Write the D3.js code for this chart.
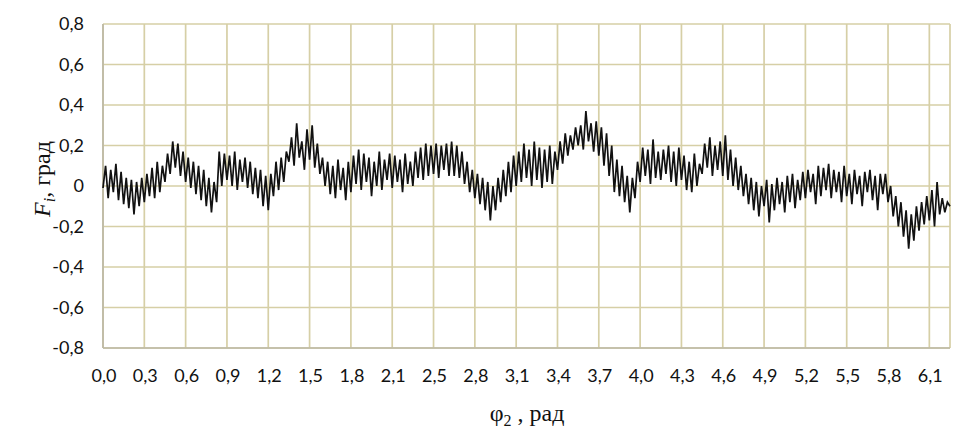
<!DOCTYPE html>
<html><head><meta charset="utf-8">
<script src="https://cdn.jsdelivr.net/npm/d3@7"></script>
<style>body{margin:0;background:#fff}svg{display:block}</style>
</head><body>
<svg id="c" width="974" height="435"></svg>
<script>
// x-axis category labels (every 16th point)
const xLabels = ["0,0","0,3","0,6","0,9","1,2","1,5","1,8","2,1","2,5","2,8","3,1","3,4","3,7","4,0","4,3","4,6","4,9","5,2","5,5","5,8","6,1"];
const yTicks = [-0.8,-0.6,-0.4,-0.2,0,0.2,0.4,0.6,0.8];
const pointsPerLabel = 16;
// F_i values (alternating low/high samples)
const seriesF = [
 -0.01,0.10,-0.06,0.08,-0.03,0.11,-0.07,0.07,
 -0.09,0.04,-0.11,0.03,-0.14,0.02,-0.10,0.04,
 -0.08,0.06,-0.05,0.09,-0.06,0.12,-0.03,0.10,
 0.02,0.16,0.06,0.22,0.09,0.21,0.05,0.17,
 0.02,0.14,-0.01,0.12,-0.04,0.10,-0.07,0.08,
 -0.10,0.04,-0.13,0.02,-0.08,0.17,0.00,0.16,
 0.03,0.15,0.00,0.17,-0.02,0.13,0.02,0.14,
 -0.01,0.12,-0.04,0.09,-0.06,0.08,-0.10,0.05,
 -0.12,0.06,-0.05,0.12,-0.02,0.14,0.02,0.17,
 0.12,0.24,0.10,0.31,0.14,0.22,0.08,0.28,
 0.13,0.30,0.09,0.21,0.06,0.14,0.00,0.12,
 -0.04,0.10,-0.06,0.13,-0.02,0.09,-0.07,0.12,
 -0.03,0.15,0.01,0.18,-0.02,0.16,0.02,0.14,
 -0.05,0.12,0.00,0.17,-0.02,0.13,0.03,0.16,
 -0.01,0.15,0.02,0.13,-0.03,0.16,0.01,0.12,
 0.00,0.17,0.04,0.19,0.03,0.21,0.05,0.20,
 0.06,0.21,0.04,0.20,0.08,0.21,0.05,0.22,
 0.05,0.20,0.04,0.17,0.01,0.12,-0.03,0.08,
 -0.06,0.06,-0.09,0.04,-0.12,0.02,-0.17,0.00,
 -0.12,0.04,-0.08,0.08,-0.05,0.12,-0.03,0.15,
 0.00,0.17,0.02,0.21,0.04,0.18,0.00,0.22,
 0.03,0.19,-0.01,0.18,0.02,0.20,0.01,0.17,
 0.08,0.22,0.11,0.26,0.15,0.25,0.18,0.29,
 0.20,0.30,0.18,0.37,0.22,0.31,0.17,0.32,
 0.15,0.29,0.10,0.26,0.05,0.20,-0.03,0.13,
 -0.05,0.10,-0.08,0.05,-0.13,0.04,-0.06,0.12,
 0.02,0.19,0.05,0.18,0.01,0.23,0.04,0.17,
 0.03,0.18,0.06,0.20,0.02,0.17,0.00,0.19,
 0.03,0.15,-0.02,0.12,-0.03,0.16,0.00,0.11,
 0.06,0.21,0.09,0.24,0.05,0.20,0.08,0.22,
 0.05,0.25,0.03,0.18,0.00,0.14,-0.02,0.10,
 -0.05,0.06,-0.09,0.04,-0.12,0.02,-0.15,0.00,
 -0.10,0.03,-0.18,0.01,-0.12,0.04,-0.09,0.02,
 -0.13,0.05,-0.08,0.06,-0.11,0.03,-0.07,0.07,
 -0.06,0.08,-0.03,0.06,-0.09,0.10,-0.05,0.09,
 -0.02,0.11,-0.06,0.08,-0.03,0.07,-0.08,0.10,
 -0.05,0.06,-0.09,0.08,-0.04,0.05,-0.10,0.07,
 -0.03,0.08,-0.07,0.05,-0.12,0.06,-0.04,0.06,
 -0.08,0.00,-0.15,-0.05,-0.20,-0.08,-0.25,-0.12,
 -0.31,-0.14,-0.27,-0.10,-0.22,-0.08,-0.19,-0.05,
 -0.17,-0.02,-0.20,0.02,-0.14,-0.06,-0.13,-0.08,
 -0.10
];

const svg = d3.select("#c");
const m = {l:103, r:950, t:24, b:348};
const x = d3.scaleLinear().domain([0, seriesF.length-1]).range([m.l, m.r]);
const y = d3.scaleLinear().domain([-0.8, 0.8]).range([m.b, m.t]);
const gridColor = "#d6cfa6";

const g = svg.append("g");
// horizontal grid
g.selectAll("line.h").data(yTicks).join("line")
  .attr("x1", m.l).attr("x2", m.r)
  .attr("y1", d=>y(d)).attr("y2", d=>y(d))
  .attr("stroke", gridColor).attr("stroke-width", 1.7);
// vertical grid
const xTickIdx = xLabels.map((_,i)=>i*pointsPerLabel);
g.selectAll("line.v").data(xTickIdx).join("line")
  .attr("x1", d=>x(d)).attr("x2", d=>x(d))
  .attr("y1", m.t).attr("y2", m.b)
  .attr("stroke", gridColor).attr("stroke-width", 1.7);
// right border
g.append("line").attr("x1", m.r).attr("x2", m.r).attr("y1", m.t).attr("y2", m.b)
  .attr("stroke", gridColor).attr("stroke-width", 1.7);
// axes lines
g.append("line").attr("x1", m.l).attr("x2", m.r).attr("y1", m.b).attr("y2", m.b)
  .attr("stroke", "#bdb9a6").attr("stroke-width", 1.7);
g.append("line").attr("x1", m.l).attr("x2", m.l).attr("y1", m.t).attr("y2", m.b)
  .attr("stroke", "#bdb9a6").attr("stroke-width", 1.7);

// y tick labels
const fmtY = d => d===0 ? "0" : d3.format(".1f")(d).replace(".", ",").replace("−","-");
svg.append("g").selectAll("text").data(yTicks).join("text")
  .attr("x", 84).attr("y", d=>y(d)).attr("dy","0.35em")
  .attr("text-anchor","end")
  .attr("font-family","Lato, 'Open Sans', sans-serif").attr("font-size",18).attr("fill","#111")
  .text(fmtY);
// x tick labels
svg.append("g").selectAll("text").data(xLabels).join("text")
  .attr("x", (d,i)=>x(xTickIdx[i]) + 1).attr("y", 382)
  .attr("text-anchor","middle")
  .attr("font-family","Lato, 'Open Sans', sans-serif").attr("font-size",18).attr("fill","#111")
  .text(d=>d);

// line
svg.append("path").datum(seriesF)
  .attr("fill","none").attr("stroke","#111").attr("stroke-width",1.7)
  .attr("stroke-linejoin","miter")
  .attr("d", d3.line().x((d,i)=>x(i)).y(d=>y(d)));

// x title
const xt = svg.append("text").attr("x", 527).attr("y", 421).attr("text-anchor","middle")
  .attr("font-family","'Liberation Serif', 'Times New Roman', serif").attr("font-size",24).attr("fill","#111");
xt.append("tspan").text("φ");
xt.append("tspan").attr("font-size",16).attr("dy",5).text("2");
xt.append("tspan").attr("dy",-5).text(" , рад");

// y title
const yt = svg.append("text").attr("transform","translate(50,179) rotate(-90)").attr("text-anchor","middle")
  .attr("font-family","'Liberation Serif', 'Times New Roman', serif").attr("font-size",24).attr("fill","#111");
yt.append("tspan").attr("font-style","italic").text("F");
yt.append("tspan").attr("font-style","italic").attr("font-size",16).attr("dy",5).text("i");
yt.append("tspan").attr("dy",-5).text(", град");
</script>
</body></html>
